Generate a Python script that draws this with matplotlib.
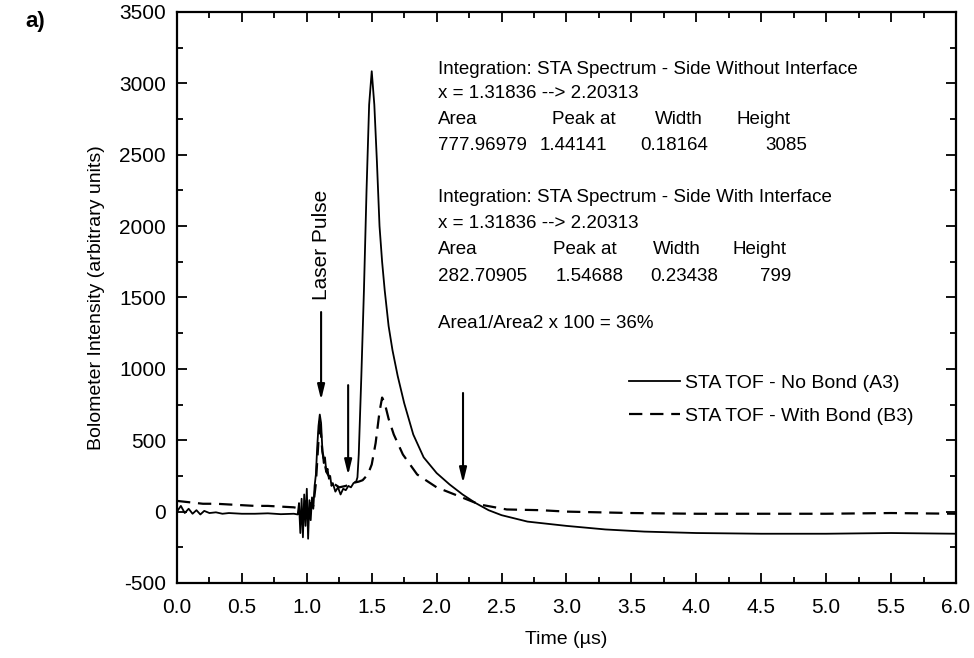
import matplotlib
matplotlib.use("Agg")
import matplotlib.pyplot as plt
from matplotlib.ticker import MultipleLocator

plt.rcParams['font.family'] = ['Liberation Sans', 'DejaVu Sans']

# Time axis (microseconds) and bolometer signal, side without interface (no bond)
t_nobond = [0.00, 0.03, 0.06, 0.09, 0.12, 0.15, 0.18, 0.21, 0.25, 0.30, 0.35, 0.40, 0.50,
            0.60, 0.70, 0.80, 0.90, 0.93, 0.94, 0.95, 0.96, 0.97, 0.98, 0.99, 1.00,
            1.01, 1.02, 1.03, 1.04, 1.05, 1.06, 1.07, 1.08, 1.09, 1.10, 1.11, 1.12,
            1.13, 1.14, 1.15, 1.16, 1.17, 1.18, 1.19, 1.20, 1.22, 1.24, 1.26, 1.28,
            1.30, 1.32, 1.34, 1.36, 1.38, 1.39, 1.40, 1.42, 1.44, 1.46, 1.48, 1.50,
            1.52, 1.54, 1.56, 1.58, 1.60, 1.63, 1.66, 1.70, 1.75, 1.82, 1.90, 2.00,
            2.10, 2.20, 2.30, 2.40, 2.50, 2.70, 3.00, 3.30, 3.60, 4.00, 4.50, 5.00,
            5.50, 6.00]
v_nobond = [0, 40, -10, 20, -15, 10, -20, 5, -10, -5, -15, -10, -15,
            -15, -12, -18, -15, -20, 60, -150, 90, -180, 120, -100, 160,
            -190, 80, -60, 100, 20, 180, 260, 450, 600, 680, 620, 430,
            340, 380, 280, 300, 230, 250, 180, 200, 140, 170, 120, 160,
            150, 180, 170, 200, 210, 240, 400, 950, 1550, 2250, 2850, 3085,
            2850, 2450, 2000, 1750, 1550, 1300, 1130, 950, 760, 540, 380, 270,
            190, 120, 60, 10, -25, -70, -100, -125, -140, -150, -155, -155,
            -150, -155]

# Bolometer signal, side with interface (with bond)
t_bond = [0.00, 0.10, 0.20, 0.30, 0.40, 0.50, 0.60, 0.70, 0.80, 0.90, 0.95, 0.97,
          0.99, 1.01, 1.03, 1.05, 1.07, 1.09, 1.10, 1.12, 1.15, 1.20, 1.25, 1.30,
          1.35, 1.40, 1.43, 1.47, 1.50, 1.53, 1.56, 1.58, 1.60, 1.63, 1.67, 1.74,
          1.85, 2.00, 2.18, 2.33, 2.54, 2.80, 3.00, 3.50, 4.00, 4.50, 5.00, 5.50,
          6.00]
v_bond = [75, 65, 55, 55, 50, 45, 40, 40, 35, 30, 20, -80,
          80, -60, 60, 40, 200, 500, 650, 420, 280, 200, 170, 180,
          200, 210, 220, 260, 330, 480, 700, 799, 760, 650, 540, 400,
          260, 170, 105, 50, 15, 10, 0, -10, -15, -15, -15, -10,
          -15]

# Integration window and arrow markers
laser_t = 1.11
int_start = 1.31836
int_end = 2.20313

fig = plt.figure(figsize=(9.74, 6.58), dpi=100)
ax = fig.add_axes([0.1817, 0.114, 0.7998, 0.8678])

ax.plot(t_nobond, v_nobond, color='black', lw=1.3, label='STA TOF - No Bond (A3)')
ax.plot(t_bond, v_bond, color='black', lw=1.6, dashes=(6, 3.5),
        label='STA TOF - With Bond (B3)')

ax.set_xlim(0, 6)
ax.set_ylim(-500, 3500)
ax.xaxis.set_minor_locator(MultipleLocator(0.25))
ax.yaxis.set_major_locator(MultipleLocator(500))
ax.yaxis.set_minor_locator(MultipleLocator(250))
ax.set_xticks([0, 0.5, 1, 1.5, 2, 2.5, 3, 3.5, 4, 4.5, 5, 5.5, 6])
ax.set_xticklabels(['0.0', '0.5', '1.0', '1.5', '2.0', '2.5', '3.0', '3.5',
                    '4.0', '4.5', '5.0', '5.5', '6.0'])
ax.set_yticks([-500, 0, 500, 1000, 1500, 2000, 2500, 3000, 3500])
ax.set_yticklabels(['-500', '0', '500', '1000', '1500', '2000', '2500', '3000', '3500'])
ax.tick_params(which='both', direction='in', top=True, right=True, width=1.3)
ax.tick_params(which='major', length=7, labelsize=15)
ax.tick_params(axis='x', which='major', pad=11)
ax.tick_params(axis='y', which='major', pad=8)
ax.tick_params(which='minor', length=4)
for s in ax.spines.values():
    s.set_linewidth(1.6)

ax.set_xlabel('Time (\u00b5s)', fontsize=14, labelpad=10)
ax.set_ylabel('Bolometer Intensity (arbitrary units)', fontsize=14, labelpad=10)

arrow = dict(arrowstyle='-|>,head_length=0.9,head_width=0.22', color='black', lw=1.5,
             shrinkA=0, shrinkB=0)
ax.annotate('', xy=(laser_t, 782), xytext=(laser_t, 1398), arrowprops=arrow)
ax.annotate('', xy=(int_start, 256), xytext=(int_start, 886), arrowprops=arrow)
ax.annotate('', xy=(int_end, 200), xytext=(int_end, 831), arrowprops=arrow)
ax.text(laser_t, 1870, 'Laser Pulse', rotation=90, ha='center', va='center', fontsize=15)

fs = 13.5
def col(px):
    return (px - 177) / 779.0

def row(py):
    return (583 - py) / 571.0

tr = ax.transAxes
ax.text(col(438), row(70), 'Integration: STA Spectrum - Side Without Interface',
        transform=tr, fontsize=fs, va='center')
ax.text(col(438), row(94), 'x = 1.31836 --> 2.20313', transform=tr, fontsize=fs, va='center')
for px, s in [(438, 'Area'), (552, 'Peak at'), (655, 'Width'), (737, 'Height')]:
    ax.text(col(px), row(120), s, transform=tr, fontsize=fs, va='center')
for px, s in [(438, '777.96979'), (540, '1.44141'), (640, '0.18164'), (765, '3085')]:
    ax.text(col(px), row(146), s, transform=tr, fontsize=fs, va='center')

ax.text(col(438), row(198), 'Integration: STA Spectrum - Side With Interface',
        transform=tr, fontsize=fs, va='center')
ax.text(col(438), row(224), 'x = 1.31836 --> 2.20313', transform=tr, fontsize=fs, va='center')
for px, s in [(438, 'Area'), (553, 'Peak at'), (653, 'Width'), (733, 'Height')]:
    ax.text(col(px), row(250), s, transform=tr, fontsize=fs, va='center')
for px, s in [(438, '282.70905'), (556, '1.54688'), (650, '0.23438'), (760, '799')]:
    ax.text(col(px), row(277), s, transform=tr, fontsize=fs, va='center')

ax.text(col(438), row(324), 'Area1/Area2 x 100 = 36%', transform=tr, fontsize=fs, va='center')

ax.legend(loc='upper left', bbox_to_anchor=(col(629), row(374)), frameon=False,
          fontsize=14, handlelength=2.6, handletextpad=0.3, labelspacing=0.8,
          borderaxespad=0, borderpad=0)

fig.text(25 / 974, 1 - 22 / 658, 'a)', fontsize=16, fontweight='bold', va='center')

fig.savefig('out.png', dpi=100)
